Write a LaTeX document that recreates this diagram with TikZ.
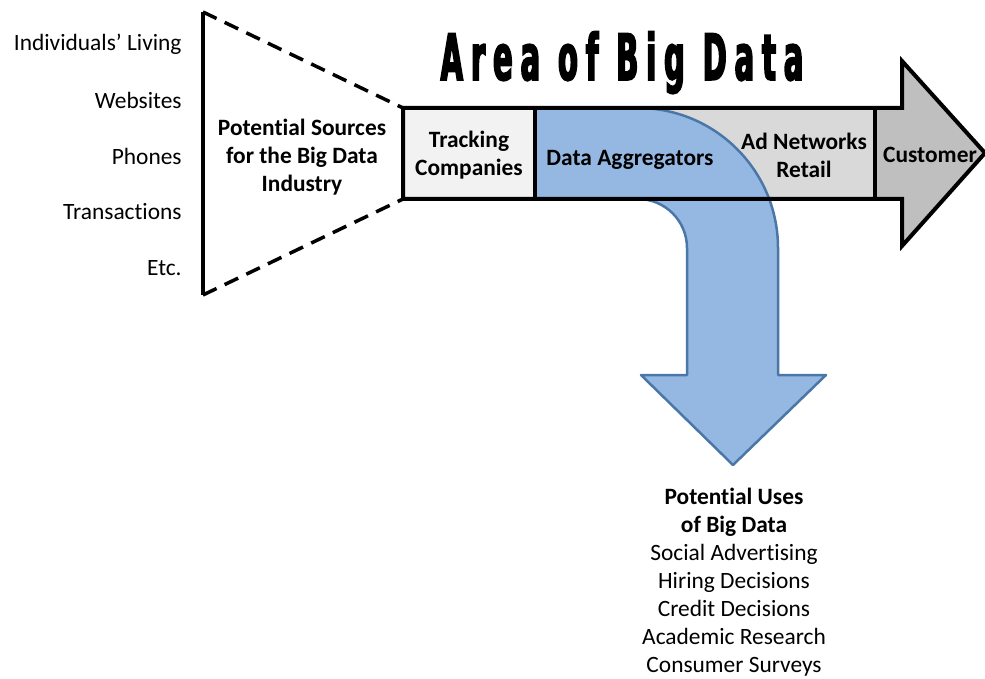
\documentclass[tikz,border=0pt]{standalone}
\usepackage{fontspec}
\setmainfont{Carlito}[Ligatures=NoCommon]
\newfontfamily\titlefont[FakeStretch=0.5,LetterSpace=12.5,FakeBold=2.5]{DejaVu Sans Condensed Bold}
\usepackage{tikz}
\usetikzlibrary{arrows}
\definecolor{trackgray}{HTML}{F2F2F2}
\definecolor{adgray}{HTML}{D9D9D9}
\definecolor{custgray}{HTML}{BFBFBF}
\definecolor{aggblue}{HTML}{95B8E3}
\definecolor{aggedge}{HTML}{4A76A8}
\tikzstyle{lbl}=[anchor=east, inner sep=0pt, font=\fontsize{11.7}{14}\selectfont]
\tikzstyle{boxtxt}=[align=center, inner sep=0pt, font=\fontsize{11.7}{14}\selectfont\bfseries]
\tikzstyle{usetxt}=[align=center, inner sep=0pt, font=\fontsize{11.7}{14}\selectfont]
\tikzstyle{outline}=[draw=black, line width=2pt, line join=miter]

\begin{document}
\begin{tikzpicture}[x=0.5pt,y=-0.5pt]
    \useasboundingbox (0,0) rectangle (985,679);
    % fills of the main arrow
    \fill[trackgray] (403,108) rectangle (535,199);
    \fill[adgray] (535,108) rectangle (875,199);
    \fill[custgray] (875,108) -- (902,108) -- (902,61) -- (985,153) -- (902,246) -- (902,199) -- (875,199) -- cycle;
    % bent arrow of the aggregators
    \filldraw[fill=aggblue, draw=aggedge, line width=1.25pt, line join=round]
        (535,108) -- (638,108) .. controls (715.3,108) and (778,170.7) .. (778,248)
        -- (778,375) -- (826,375) -- (733,465) -- (641,375) -- (687,375) -- (687,248)
        .. controls (687,220.9) and (665.1,199) .. (638,199) -- (535,199) -- cycle;
    % outline of the main arrow
    \draw[outline] (403,108) -- (902,108) -- (902,61) -- (985,153) -- (902,246) -- (902,199) -- (403,199) -- cycle;
    \draw[outline] (535,108) -- (535,199) (875,108) -- (875,199);
    % funnel of the sources
    \draw[line width=2pt] (203,12) -- (203,295);
    \draw[line width=1.75pt, dash pattern=on 7.5pt off 4.5pt] (203,12) -- (403,108) (203,295) -- (403,199);

    \node[lbl] (living) at (182,44) {Individuals’ Living};
    \node[lbl] (websites) at (182,100) {Websites};
    \node[lbl] (phones) at (182,156) {Phones};
    \node[lbl] (transactions) at (182,212) {Transactions};
    \node[lbl] (etc) at (182,268) {Etc.};

    \node[boxtxt] (sources) at (302,157) {Potential Sources\\for the Big Data\\Industry};
    \node[boxtxt] (tracking) at (469,155) {Tracking\\Companies};
    \node[boxtxt] (aggregators) at (630,160) {Data Aggregators};
    \node[boxtxt] (adnet) at (804,155) {Ad Networks\\Retail};
    \node[boxtxt] (customer) at (930,155) {Customer};

    \node[anchor=base, inner sep=0pt, font=\fontsize{32}{32}\titlefont] (title) at (622,80) {Area of Big Data};

    \node[usetxt] (uses) at (734,582) {\textbf{Potential Uses}\\\textbf{of Big Data}\\Social Advertising\\Hiring Decisions\\Credit Decisions\\Academic Research\\Consumer Surveys};
\end{tikzpicture}
\end{document}
